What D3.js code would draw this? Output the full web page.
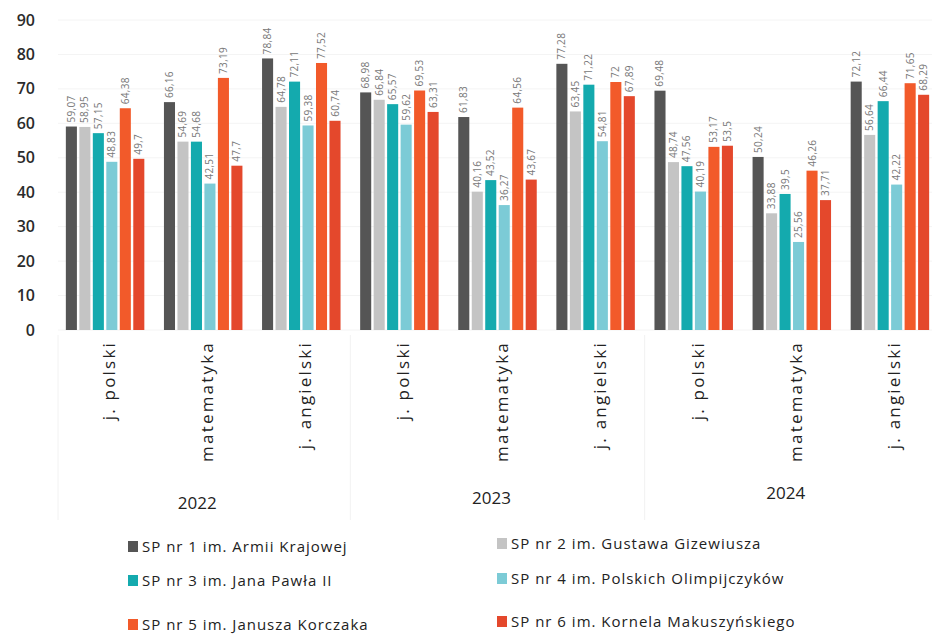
<!DOCTYPE html>
<html><head><meta charset="utf-8">
<script src="https://cdn.jsdelivr.net/npm/d3@7"></script>
<style>body{margin:0;background:#fff;} text{font-family:"Open Sans","Noto Sans",sans-serif;}</style>
</head><body><svg id="c" width="932" height="635"></svg>
<script>
const years = ["2022","2023","2024"];
const subjects = ["j. polski","matematyka","j. angielski"];
const schools = ["SP nr 1 im. Armii Krajowej","SP nr 2 im. Gustawa Gizewiusza","SP nr 3 im. Jana Pawła II","SP nr 4 im. Polskich Olimpijczyków","SP nr 5 im. Janusza Korczaka","SP nr 6 im. Kornela Makuszyńskiego"];
const colors = ["#555555","#c4c4c4","#14aaae","#7ccbd6","#f25a2a","#e4482c"];
const yTicks = [0,10,20,30,40,50,60,70,80,90];
// values per school, order: 2022 (pol, mat, ang), 2023 (...), 2024 (...)
const sp1 = [59.07,66.16,78.84, 68.98,61.83,77.28, 69.48,50.24,72.12];
const sp2 = [58.95,54.69,64.78, 66.84,40.16,63.45, 48.74,33.88,56.64];
const sp3 = [57.15,54.68,72.11, 65.57,43.52,71.22, 47.56,39.5,66.44];
const sp4 = [48.83,42.51,59.38, 59.62,36.27,54.81, 40.19,25.56,42.22];
const sp5 = [64.38,73.19,77.52, 69.53,64.56,72, 53.17,46.26,71.65];
const sp6 = [49.7,47.7,60.74, 63.31,43.67,67.89, 53.5,37.71,68.29];
const series = [sp1,sp2,sp3,sp4,sp5,sp6];

const groups = [];
years.forEach(y=>subjects.forEach(s=>groups.push(y+"|"+s)));

const svg = d3.select("#c");
const y = d3.scaleLinear().domain([0,90]).range([330,20]);
const x0 = d3.scaleBand().domain(groups).range([58,937]).paddingInner(0.2).paddingOuter(0.08);
const x1 = d3.scaleBand().domain(d3.range(6)).range([0,x0.bandwidth()]).paddingInner(0.18);

// faint grid
svg.append("g").selectAll("line").data(yTicks).join("line")
  .attr("x1",58).attr("x2",932).attr("y1",d=>y(d)).attr("y2",d=>y(d))
  .attr("stroke","#f4f4f4").attr("stroke-width",1);

// y axis labels
svg.append("g").selectAll("text").data(yTicks).join("text")
  .attr("x",35).attr("y",d=>y(d)).attr("dy","0.35em").attr("text-anchor","end")
  .attr("font-size",16).attr("fill","#2b2b2b").attr("font-weight",600).text(d=>d);

// year separators
[0,1,2,3].forEach(i=>{
  const xx = i===0? 58 : (i===3? 937 : (x0(groups[i*3-1])+x0.bandwidth()+x0(groups[i*3]))/2);
  svg.append("line").attr("x1",xx).attr("x2",xx).attr("y1",335).attr("y2",520).attr("stroke","#f2f2f2");
});

const g = svg.append("g");
groups.forEach((gk,gi)=>{
  const gg = g.append("g").attr("transform",`translate(${x0(gk)},0)`);
  series.forEach((s,si)=>{
    const v = s[gi];
    gg.append("rect").attr("x",x1(si)).attr("y",y(v)).attr("width",x1.bandwidth())
      .attr("height",y(0)-y(v)).attr("fill",colors[si]);
    const tx = x1(si)+x1.bandwidth()/2;
    gg.append("text").attr("transform",`translate(${tx+3.5},${y(v)-4}) rotate(-90)`)
      .attr("font-size",10).attr("letter-spacing",0.3).attr("fill","#777").text(String(v).replace(".",","));
  });
  // subject label
  const cx = x0(gk)+x0.bandwidth()/2 + 4;
  svg.append("text").attr("transform",`translate(${cx+6},341) rotate(-90)`)
    .attr("text-anchor","end").attr("font-size",17).attr("font-weight",500).attr("letter-spacing",2.2).attr("fill","#222")
    .text(gk.split("|")[1]);
});

// year labels
years.forEach((yr,i)=>{
  const mid = groups[i*3+1];
  const cx = x0(mid)+x0.bandwidth()/2 - 6;
  svg.append("text").attr("x",cx).attr("y",[509,504,499][i]).attr("text-anchor","middle")
    .attr("font-size",17).attr("font-weight",500).attr("fill","#222").text(yr);
});

// legend
const legPos = [[128,552],[497,549],[128,586],[497,584],[128,630],[497,627]];
schools.forEach((s,i)=>{
  const [lx,ly] = legPos[i];
  svg.append("rect").attr("x",lx).attr("y",ly-11).attr("width",10).attr("height",11).attr("fill",colors[i]);
  svg.append("text").attr("x",lx+14).attr("y",ly).attr("font-size",15).attr("font-weight",500)
    .attr("letter-spacing",1).attr("fill","#222").text(s);
});
</script></body></html>
